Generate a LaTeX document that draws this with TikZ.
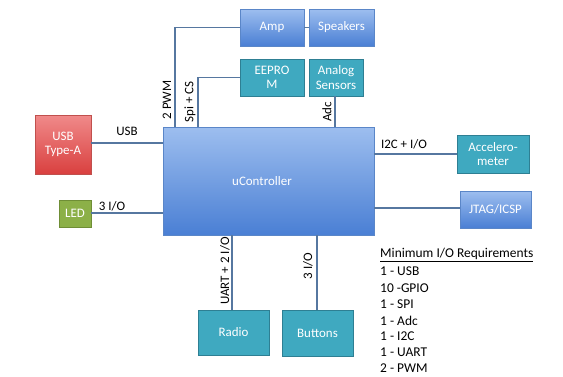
\documentclass[tikz,border=0pt]{standalone}
\usepackage{fontspec}
\setmainfont{Carlito}
\usetikzlibrary{positioning}
\definecolor{bluetop}{HTML}{9DBEEF}
\definecolor{bluebot}{HTML}{4A7FD4}
\definecolor{blueedge}{HTML}{5A86C8}
\definecolor{tealfill}{HTML}{3FA9C0}
\definecolor{tealedge}{HTML}{2E7F93}
\definecolor{redtop}{HTML}{F08A8A}
\definecolor{redbot}{HTML}{D9403F}
\definecolor{rededge}{HTML}{C0504D}
\definecolor{greenfill}{HTML}{8CB048}
\definecolor{greenedge}{HTML}{6F8E36}
\definecolor{wire}{HTML}{5677A0}
\tikzset{
  box/.style={rectangle, inner sep=0pt, align=center, text=white, font=\fontsize{13}{14.5}\selectfont, line width=0.8pt},
  bluebox/.style={box, draw=blueedge, top color=bluetop, bottom color=bluebot},
  tealbox/.style={box, draw=tealedge, fill=tealfill},
  redbox/.style={box, draw=rededge, top color=redtop, bottom color=redbot},
  greenbox/.style={box, draw=greenedge, fill=greenfill},
  wire/.style={draw=wire, line width=1.3pt},
  lbl/.style={font=\fontsize{13}{14}\selectfont, text=black, inner sep=1pt},
  req/.style={font=\fontsize{13.5}{15}\selectfont, text=black, anchor=west, inner sep=0pt},
}
\begin{document}
\begin{tikzpicture}[x=1bp,y=-1bp]
\useasboundingbox (0,0) rectangle (563,376);
\fill[white] (0,0) rectangle (563,376);
\node[bluebox, minimum width=64bp, minimum height=37bp] (amp) at (272,27.5) {Amp};
\node[bluebox, minimum width=65bp, minimum height=37bp] (spk) at (341.5,27.5) {Speakers};
\node[tealbox, minimum width=64bp, minimum height=37bp] (eep) at (272,77.5) {EEPRO\\M};
\node[tealbox, minimum width=54bp, minimum height=37bp] (ana) at (336,77.5) {Analog\\Sensors};
\node[bluebox, minimum width=211bp, minimum height=108bp] (uc) at (268.5,181) {};
\node[text=white, font=\fontsize{13}{14.5}\selectfont] (uclbl) at (262,181) {uController};
\node[redbox, minimum width=56bp, minimum height=59bp] (usb) at (63,144.5) {USB\\Type-A};
\node[greenbox, minimum width=32bp, minimum height=27bp] (led) at (75,213.5) {LED};
\node[tealbox, minimum width=72bp, minimum height=38bp] (acc) at (493,154) {Accelero-\\meter};
\node[bluebox, minimum width=71bp, minimum height=37bp] (jtag) at (495.5,209.5) {JTAG/ICSP};
\node[tealbox, minimum width=71bp, minimum height=45bp] (radio) at (233.5,332.5) {Radio};
\node[tealbox, minimum width=71bp, minimum height=46bp] (btn) at (317.5,333) {Buttons};
\coordinate (pwm) at (175,27.5);
\coordinate (spi) at (198,77.5);
\draw[wire] (usb.east |- 0,143) -- (uc.west |- 0,143);
\draw[wire] (led.east |- 0,213) -- (uc.west |- 0,213);
\draw[wire] (uc.north -| pwm) -- (pwm) -- (amp.west);
\draw[wire] (uc.north -| spi) -- (spi) -- (eep.west);
\draw[wire] (amp.east) -- (spk.west);
\draw[wire] (ana.south -| 335,0) -- (uc.north -| 335,0);
\draw[wire] (uc.east |- acc.west) -- (acc.west);
\draw[wire] (uc.east |- 0,208) -- (jtag.west |- 0,208);
\draw[wire] (uc.south -| 232,0) -- (radio.north -| 232,0);
\draw[wire] (uc.south -| 317,0) -- (btn.north -| 317,0);
\node[lbl] (lusb) at (127,131) {USB};
\node[lbl] (lled) at (112,206) {3 I/O};
\node[lbl, rotate=90] (lpwm) at (167,100) {2 PWM};
\node[lbl, rotate=90] (lspi) at (190,102) {Spi + CS};
\node[lbl, rotate=90] (ladc) at (327,112) {Adc};
\node[lbl] (li2c) at (404,144) {I2C + I/O};
\node[lbl, rotate=90] (luart) at (225,271) {UART + 2 I/O};
\node[lbl, rotate=90] (l3io) at (308,266) {3 I/O};
\node[req] (r0) at (380,255) {\underline{Minimum I/O Requirements}};
\node[req] (r1) at (380,271.5) {1 - USB};
\node[req] (r2) at (380,288) {10 -GPIO};
\node[req] (r3) at (380,304.5) {1 - SPI};
\node[req] (r4) at (380,320.5) {1 - Adc};
\node[req] (r5) at (380,336.5) {1 - I2C};
\node[req] (r6) at (380,352.5) {1 - UART};
\node[req] (r7) at (380,368.5) {2 - PWM};
\end{tikzpicture}
\end{document}
